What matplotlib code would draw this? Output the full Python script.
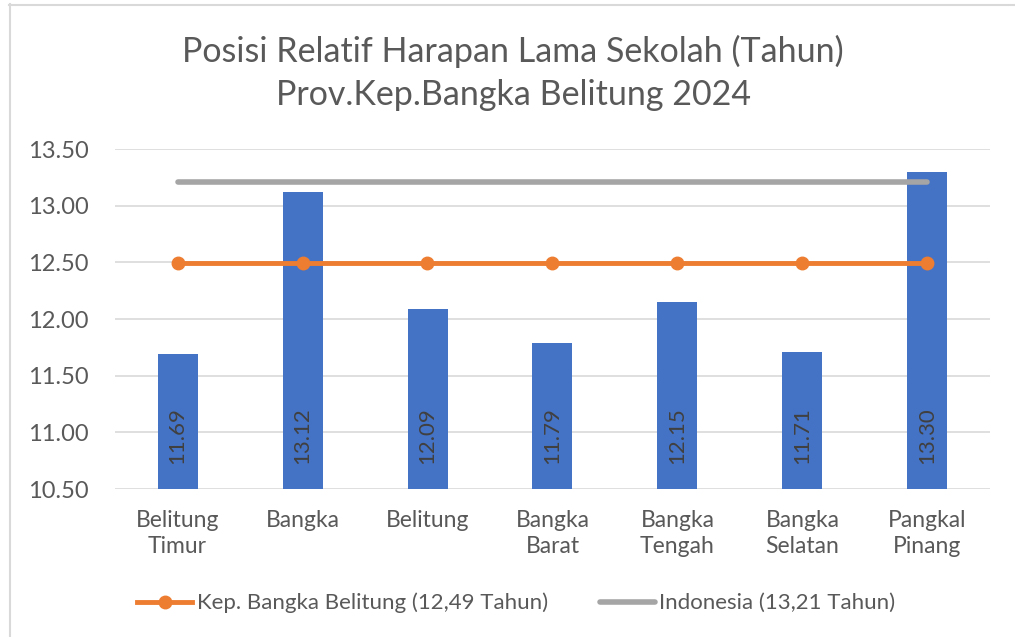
import matplotlib
matplotlib.use("Agg")
import matplotlib.pyplot as plt
from matplotlib.lines import Line2D

categories = ["Belitung\nTimur", "Bangka", "Belitung", "Bangka\nBarat",
              "Bangka\nTengah", "Bangka\nSelatan", "Pangkal\nPinang"]
values = [11.69, 13.12, 12.09, 11.79, 12.15, 11.71, 13.30]
prov_value = 12.49
indo_value = 13.21
prov_label = "Kep. Bangka Belitung (12,49 Tahun)"
indo_label = "Indonesia (13,21 Tahun)"
title = "Posisi Relatif Harapan Lama Sekolah (Tahun)\nProv.Kep.Bangka Belitung 2024"
yticks = [10.5, 11.0, 11.5, 12.0, 12.5, 13.0, 13.5]

plt.rcParams['font.family'] = ['Lato', 'DejaVu Sans']
txt = '#595959'

W, H = 1015, 637
fig = plt.figure(figsize=(W/100, H/100), dpi=100)
ax = fig.add_axes([115/W, 1-489/H, 875/W, 340/H])

x = list(range(len(categories)))
ax.bar(x, values, width=0.32, color='#4472C4', zorder=2)
ax.plot([x[0], x[-1]], [indo_value, indo_value], color='#A5A5A5', lw=4,
        solid_capstyle='round', zorder=3)
ax.plot(x, [prov_value]*len(x), color='#ED7D31', lw=3.5, marker='o',
        markersize=9, zorder=4)

for xi, v in zip(x, values):
    ax.annotate(f"{v:.2f}", (xi, 10.5), xytext=(0, 18), textcoords='offset points',
                rotation=90, ha='center', va='bottom', fontsize=16, color='#404040',
                zorder=5)

ax.set_xlim(-0.5, len(x)-0.5)
ax.set_ylim(10.5, 13.5)
ax.set_yticks(yticks)
ax.set_yticklabels([f"{t:.2f}" for t in yticks])
ax.set_xticks(x)
ax.set_xticklabels(categories, linespacing=1.3)
ax.tick_params(axis='y', length=0, labelsize=17, colors=txt, pad=19)
ax.tick_params(axis='x', length=0, labelsize=16.5, colors=txt, pad=15)
ax.grid(axis='y', color='#D9D9D9', lw=1.2, zorder=0)
ax.set_axisbelow(True)
for s in ax.spines.values():
    s.set_visible(False)

fig.text(513/W, 1-73/H, title, ha='center', va='center', fontsize=24.5,
         color=txt, linespacing=1.4)

handles = [Line2D([], [], color='#ED7D31', lw=3.5, marker='o', markersize=9),
           Line2D([], [], color='#A5A5A5', lw=4, solid_capstyle='round')]
fig.legend(handles, [prov_label, indo_label], loc='center', bbox_to_anchor=(516.5/W, 1-603/H),
           ncol=2, frameon=False, fontsize=16, labelcolor=txt, handlelength=2.45,
           handletextpad=0.22, columnspacing=2.35)

# outer frame
fig.add_artist(Line2D([9.5/W, 9.5/W], [0, 1-4/H], color='#D9D9D9', lw=1.5, transform=fig.transFigure))
fig.add_artist(Line2D([9/W, 1], [1-4.5/H, 1-4.5/H], color='#D9D9D9', lw=1.5, transform=fig.transFigure))

fig.savefig('out.png', dpi=100)
